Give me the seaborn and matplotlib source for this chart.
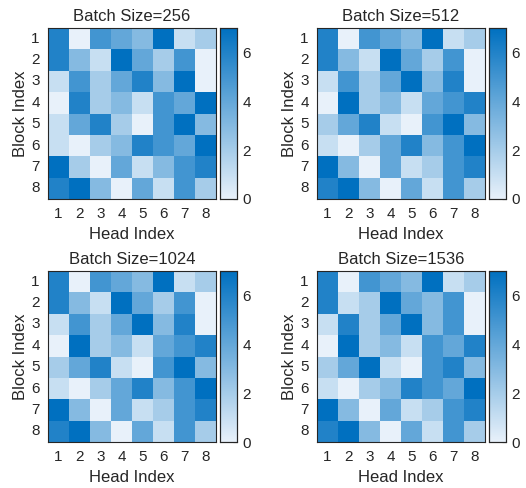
import matplotlib
matplotlib.use("Agg")
import matplotlib.pyplot as plt
from matplotlib.colors import LinearSegmentedColormap
import seaborn as sns
import pandas as pd

# rank of each head within a block, per batch size
heads = [1, 2, 3, 4, 5, 6, 7, 8]
blocks = [1, 2, 3, 4, 5, 6, 7, 8]

bs256 = [[6, 0, 5, 4, 3, 7, 1, 2],
         [6, 3, 1, 7, 4, 2, 5, 0],
         [1, 5, 2, 4, 6, 3, 7, 0],
         [0, 6, 2, 3, 1, 5, 4, 7],
         [1, 4, 6, 2, 0, 5, 7, 3],
         [1, 0, 2, 3, 6, 5, 4, 7],
         [7, 2, 0, 4, 1, 3, 5, 6],
         [6, 7, 3, 0, 4, 1, 5, 2]]

bs512 = [[6, 0, 5, 4, 3, 7, 1, 2],
         [6, 3, 1, 7, 4, 2, 5, 0],
         [1, 5, 2, 4, 7, 3, 6, 0],
         [0, 7, 2, 3, 1, 4, 5, 6],
         [2, 4, 6, 1, 0, 5, 7, 3],
         [1, 0, 2, 4, 6, 3, 5, 7],
         [7, 3, 0, 4, 1, 2, 5, 6],
         [6, 7, 3, 0, 4, 1, 5, 2]]

bs1024 = [[6, 0, 5, 4, 3, 7, 1, 2],
          [6, 3, 1, 7, 4, 2, 5, 0],
          [1, 5, 2, 4, 7, 3, 6, 0],
          [0, 7, 2, 3, 1, 4, 5, 6],
          [2, 4, 6, 1, 0, 5, 7, 3],
          [1, 0, 2, 4, 6, 3, 5, 7],
          [7, 3, 0, 4, 1, 2, 5, 6],
          [6, 7, 3, 0, 4, 1, 5, 2]]

bs1536 = [[6, 0, 5, 4, 3, 7, 1, 2],
          [6, 1, 2, 7, 4, 3, 5, 0],
          [1, 6, 2, 4, 7, 3, 5, 0],
          [0, 7, 2, 3, 1, 5, 4, 6],
          [2, 4, 7, 1, 0, 5, 6, 3],
          [1, 0, 2, 3, 6, 5, 4, 7],
          [7, 3, 0, 4, 1, 2, 5, 6],
          [6, 7, 3, 0, 4, 1, 5, 2]]

titles = ['Batch Size=256', 'Batch Size=512', 'Batch Size=1024', 'Batch Size=1536']
mats = [bs256, bs512, bs1024, bs1536]

sns.set_theme(style="white")
plt.rcParams['font.family'] = ['Liberation Sans', 'DejaVu Sans']
txt = '#262626'
plt.rcParams.update({'text.color': txt, 'axes.labelcolor': txt,
                     'xtick.color': txt, 'ytick.color': txt})

cmap = LinearSegmentedColormap.from_list('blues', ['#e8f1fa', '#0070c0'])

W, H = 526, 488
fig = plt.figure(figsize=(W / 100, H / 100), dpi=100)

# left, top of each heatmap in pixels
pos = [(48, 28), (317, 28), (48, 271), (317, 271)]
hw, hh = 168, 171

for (x0, y0), m, t in zip(pos, mats, titles):
    ax = fig.add_axes([x0 / W, 1 - (y0 + hh) / H, hw / W, hh / H])
    cax = fig.add_axes([(x0 + hw + 4) / W, 1 - (y0 + hh) / H, 17 / W, hh / H])
    df = pd.DataFrame(m, index=blocks, columns=heads)
    sns.heatmap(df, ax=ax, cbar_ax=cax, cmap=cmap, vmin=0, vmax=7,
                square=False, linewidths=0)
    for s in ax.spines.values():
        s.set_visible(True)
        s.set_color('#262626')
        s.set_linewidth(0.8)
    ax.set_title(t, fontsize=12, pad=5)
    ax.set_xlabel('Head Index', fontsize=12, labelpad=4)
    ax.set_ylabel('Block Index', fontsize=12, labelpad=2)
    ax.tick_params(axis='both', length=0, labelsize=11, pad=6)
    ax.set_yticklabels(blocks, rotation=0)
    ax.set_xticklabels(heads, rotation=0)

    cax.set_yticks([0, 2, 4, 6])
    cax.tick_params(axis='y', direction='in', length=3, width=0.8,
                    labelsize=11, pad=4, color='#262626')
    for s in cax.spines.values():
        s.set_visible(True)
        s.set_color('#262626')
        s.set_linewidth(0.8)

fig.savefig('out.png', dpi=100)
